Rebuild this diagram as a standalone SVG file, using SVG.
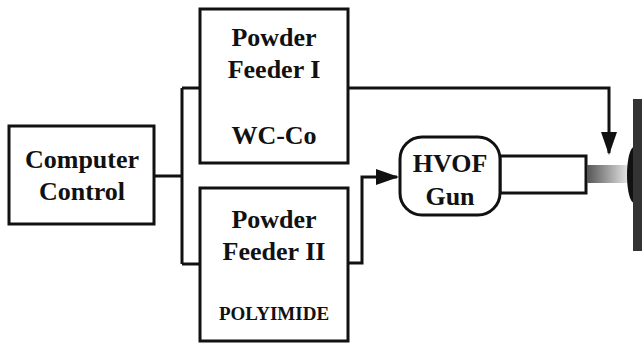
<svg xmlns="http://www.w3.org/2000/svg" width="642" height="343" viewBox="0 0 642 343">
<defs>
<style>
.box{fill:#fff;stroke:#111;stroke-width:3}
.ln{fill:none;stroke:#111;stroke-width:3}
.t{font-family:"Liberation Serif","Times New Roman",serif;font-weight:bold;fill:#111;text-anchor:middle;font-size:26px}
.s{font-size:19px}
</style>
<marker id="ah" markerWidth="23" markerHeight="16" refX="21" refY="8" orient="auto" markerUnits="userSpaceOnUse">
<path d="M0,0 L23,8 L0,16 z" fill="#111"/>
</marker>
<linearGradient id="jet" x1="0" x2="1" y1="0" y2="0">
<stop offset="0" stop-color="#555"/>
<stop offset="1" stop-color="#e8e8e8"/>
</linearGradient>
</defs>
<g id="connectors">
<path class="ln" d="M154,176 H182 M182,88 V264 M182,88 H200 M182,264 H200"/>
<path class="ln" d="M348,88 H609 V153" marker-end="url(#ah)"/>
<path class="ln" d="M348,263 H362 V177 H397" marker-end="url(#ah)"/>
</g>
<g id="computer">
<rect class="box" x="9" y="126" width="145" height="98"/>
<text class="t" x="82" y="168">Computer</text>
<text class="t" x="82" y="200">Control</text>
</g>
<g id="feeder1">
<rect class="box" x="200" y="9" width="148" height="154"/>
<text class="t" x="274" y="46">Powder</text>
<text class="t" x="274" y="78">Feeder I</text>
<text class="t" x="274" y="144">WC-Co</text>
</g>
<g id="feeder2">
<rect class="box" x="200" y="188" width="148" height="153"/>
<text class="t" x="274" y="228">Powder</text>
<text class="t" x="274" y="260">Feeder II</text>
<text class="t s" x="274" y="320">POLYIMIDE</text>
</g>
<g id="gun">
<rect class="box" x="500" y="156" width="86" height="37"/>
<rect class="box" x="400" y="137" width="100" height="78" rx="22"/>
<text class="t" x="450" y="172">HVOF</text>
<text class="t" x="450" y="205">Gun</text>
</g>
<g id="substrate">
<rect x="587" y="165" width="42" height="18" fill="url(#jet)"/>
<ellipse cx="634" cy="175" rx="7" ry="28" fill="#111"/>
<rect x="633" y="99" width="9" height="152" fill="#333"/>
</g>
</svg>
